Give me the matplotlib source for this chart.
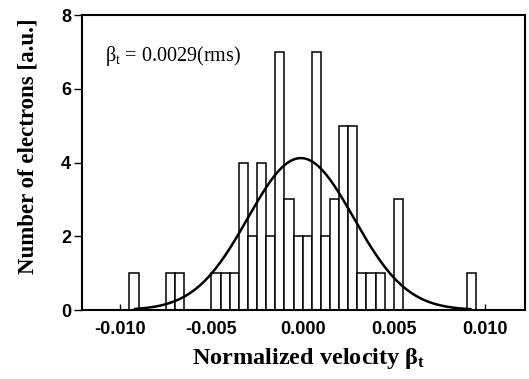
import numpy as np
import matplotlib
matplotlib.use("Agg")
import matplotlib.pyplot as plt

# histogram of transverse velocities (left bin edge, count)
bin_width = 0.0005
bin_left = [-0.0095, -0.0075, -0.0070, -0.0050, -0.0045, -0.0040,
            -0.0035, -0.0030, -0.0025, -0.0020, -0.0015, -0.0010,
            -0.0005, 0.0000, 0.0005, 0.0010, 0.0015, 0.0020,
            0.0025, 0.0030, 0.0035, 0.0040, 0.0050, 0.0090]
counts = [1, 1, 1, 1, 1, 1,
          4, 2, 4, 2, 7, 3,
          2, 2, 7, 2, 3, 5,
          5, 1, 1, 1, 3, 1]

# gaussian fit
fit_mu = -0.0001
fit_sigma = 0.0029
fit_peak = 4.12
fit_range = (-0.0092, 0.0092)

x_ticks = [-0.010, -0.005, 0.000, 0.005, 0.010]
x_ticklabels = ["-0.010", "-0.005", "0.000", "0.005", "0.010"]
y_ticks = [0, 2, 4, 6, 8]

serif = ["Liberation Serif", "DejaVu Serif"]
sans = ["Liberation Sans", "DejaVu Sans"]
plt.rcParams["mathtext.fontset"] = "custom"
plt.rcParams["mathtext.rm"] = "Liberation Serif"
plt.rcParams["mathtext.it"] = "Liberation Serif"
plt.rcParams["mathtext.bf"] = "Liberation Serif:bold"

fig = plt.figure(figsize=(5.29, 3.79), dpi=100)
ax = fig.add_axes([0.155, 0.182, 0.8376, 0.7784])

ax.bar(bin_left, counts, width=bin_width, align="edge",
       facecolor="white", edgecolor="black", linewidth=1.1, zorder=2)

xs = np.linspace(fit_range[0], fit_range[1], 400)
ax.plot(xs, fit_peak * np.exp(-0.5 * ((xs - fit_mu) / fit_sigma) ** 2),
        color="black", linewidth=1.8, zorder=3)

ax.set_xlim(-0.0121, 0.0122)
ax.set_ylim(0, 8)
ax.set_xticks(x_ticks)
ax.set_xticklabels(x_ticklabels)
ax.set_yticks(y_ticks)
ax.tick_params(axis="x", direction="in", length=4, width=1, pad=8)
ax.tick_params(axis="y", direction="out", length=6, width=1, pad=2)
for lab in ax.get_xticklabels() + ax.get_yticklabels():
    lab.set_family(sans)
    lab.set_fontweight("bold")
    lab.set_fontsize(13)
for sp in ax.spines.values():
    sp.set_linewidth(1.5)

ax.text(0.052, 0.86, r"$\mathregular{\beta_t}$ = 0.0029(rms)",
        transform=ax.transAxes, family=serif, fontsize=14.5, va="center")

fig.text(0.583, 0.055, r"Normalized velocity $\mathbf{\beta_t}$", family=serif,
         fontweight="bold", fontsize=17.5, ha="center", va="center")
fig.text(0.053, 0.615, "Number of electrons [a.u.]", family=serif,
         fontweight="bold", fontsize=16.5, ha="center", va="center", rotation=90)

fig.savefig("out.png", dpi=100)
